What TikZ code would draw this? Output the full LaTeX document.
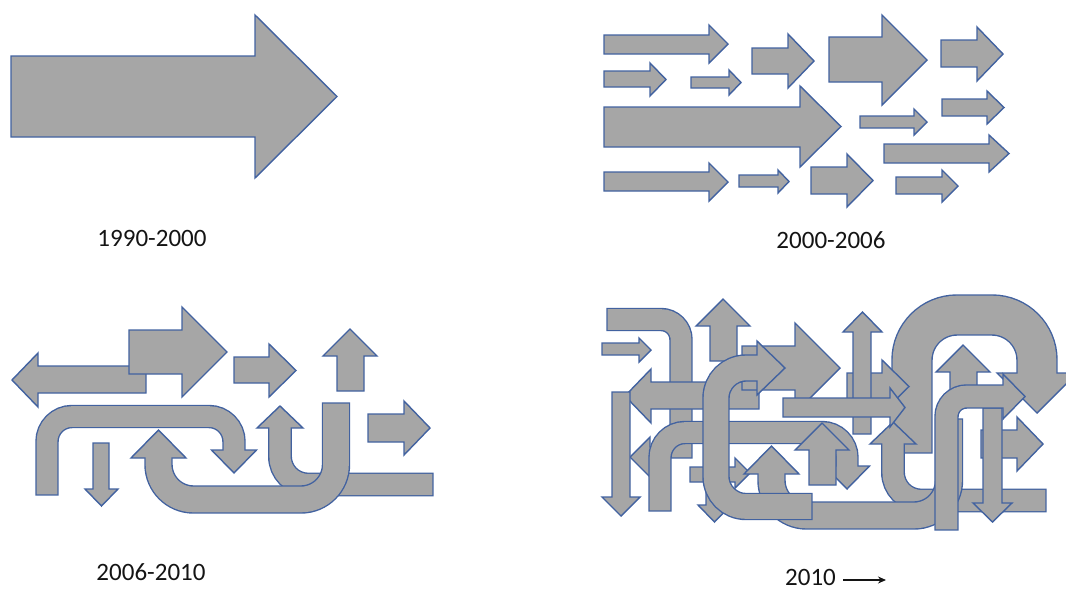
\documentclass[tikz,border=0pt]{standalone}
\usepackage{fontspec}
\setmainfont{Carlito}
\usetikzlibrary{arrows.meta}
\definecolor{agray}{RGB}{166,166,166}
\definecolor{ablue}{RGB}{66,98,160}
\definecolor{txt}{RGB}{20,20,20}
\tikzset{
 blk/.style={fill=agray, draw=ablue, line width=1.4pt, line join=miter},
 lbl/.style={inner sep=0pt, text=txt, font=\fontsize{25}{30}\selectfont},
 tarrow/.style={draw=txt, line width=1.3pt, -{Stealth[length=8pt,width=7pt]}},
}
% horizontal block arrow: tail x, shaft top, shaft bottom, head base x, head top, head bottom, tip x
\newcommand\HA[7]{\draw[blk] (#1,#2) -- (#4,#2) -- (#4,#5) -- (#7,{(#5+#6)/2}) -- (#4,#6) -- (#4,#3) -- (#1,#3) -- cycle;}
% vertical block arrow: tail y, shaft left, shaft right, head base y, head left, head right, tip y
\newcommand\VA[7]{\draw[blk] (#2,#1) -- (#2,#4) -- (#5,#4) -- ({(#5+#6)/2},#7) -- (#6,#4) -- (#3,#4) -- (#3,#1) -- cycle;}
% bent band with head: width, radius, centre path (tail to head base), head polygon
\newcommand\band[4]{%
 \draw[draw=ablue, line width={(#1+1.4)*1pt}, rounded corners=#2pt, shorten <=-0.7pt] #3;
 \draw[blk] #4 -- cycle;
 \draw[draw=agray, line width={(#1-1.4)*1pt}, rounded corners=#2pt, shorten <=0.7pt, shorten >=-1.6pt] #3;}
\newcommand\bandnh[3]{%
 \draw[draw=ablue, line width={(#1+1.4)*1pt}, rounded corners=#2pt, shorten <=-0.7pt, shorten >=-0.7pt] #3;
 \draw[draw=agray, line width={(#1-1.4)*1pt}, rounded corners=#2pt, shorten <=0.7pt, shorten >=0.7pt] #3;}
% shapes of the 2006-2010 group
\newcommand\qA{\HA{146}{366}{393}{38}{353}{407}{12}}
\newcommand\qB{\HA{129}{330}{374}{182}{307}{397}{227}}
\newcommand\qC{\HA{234}{357}{383}{269}{344}{397}{296}}
\newcommand\qD{\VA{391}{337}{364}{356}{323}{377}{329}}
\newcommand\qE{\HA{368}{414}{442}{404}{401}{455}{430}}
\newcommand\qF{\VA{443}{93}{109}{489}{85}{118}{506}}
\newcommand\qG{\band{22}{25}{(47,495) -- (47,416.5) -- (234,416.5) -- (234,450)}{(211.5,450) -- (234,473) -- (256.5,450)}}
\newcommand\qH{\band{27}{35}{(336,403) -- (336,499.5) -- (158.5,499.5) -- (158.5,458)}{(131,458) -- (158.5,430) -- (186,458)}}
\newcommand\qI{\band{22.5}{28}{(433,484.5) -- (280,484.5) -- (280,428)}{(257,428) -- (280,406) -- (303,428)}}
\begin{document}
\begin{tikzpicture}[x=1pt,y=-1pt]
\useasboundingbox (0,0) rectangle (1066,592);
\clip (0,0) rectangle (1066,592);
% 1990-2000
\HA{11}{56}{137}{255}{15}{178}{337}
% 2000-2006
\HA{604}{35}{54}{709}{25}{63}{728}
\HA{604}{71}{87}{650}{63}{96}{666}
\HA{691}{77}{88}{729}{70}{95}{741}
\HA{752}{48}{74}{788}{34}{88}{814}
\HA{829}{37}{82}{882}{15}{105}{927}
\HA{941}{40}{67}{977}{27}{81}{1003}
\HA{604}{107}{147}{800}{86}{167}{841}
\HA{860}{116}{128}{914}{109}{135}{927}
\HA{942}{99}{116}{987}{91}{124}{1004}
\HA{884}{144}{163}{989}{135}{172}{1009}
\HA{604}{172}{191}{709}{163}{201}{728}
\HA{739}{175}{187}{778}{170}{193}{789}
\HA{811}{167}{194}{847}{154}{207}{873}
\HA{896}{177}{194}{942}{170}{202}{958}
% 2006-2010
\qA \qB \qC \qD \qE \qF \qI \qH \qG
% 2010 ->
\bandnh{22}{20}{(607,319.5) -- (681,319.5) -- (681,458)}
\band{40}{45}{(912,453) -- (912,315) -- (1037,315) -- (1037,373)}{(997,373) -- (1037,413) -- (1077,373)}
\begin{scope}[shift={(613,16)}]\qD\qC\end{scope}
\begin{scope}[shift={(373,-30)}]\qD\end{scope}
\HA{602}{343}{355}{639}{338}{362}{651}
\begin{scope}[shift={(613,16)}]\qA\end{scope}
\HA{665}{447}{467}{650}{437}{477}{630}
\VA{392}{612}{630}{497}{602}{640}{516}
\begin{scope}[shift={(613,16)}]\qB\qF\end{scope}
\HA{690}{467}{482}{735}{458}{488}{750}
\begin{scope}[shift={(613,16)}]\qI\qH\qE\end{scope}
\VA{408}{983}{1002}{503}{973}{1012}{522}
\band{23}{20}{(946.5,530) -- (946.5,396.5) -- (1003,396.5)}{(1003,374) -- (1025,396.5) -- (1003,419)}
\begin{scope}[shift={(613,16)}]\qG\end{scope}
\VA{434}{853}{871}{332}{843}{882}{312}
\HA{783}{398}{417}{890}{388}{427}{905}
\begin{scope}[shift={(472,94)}]\qD\end{scope}
\band{26}{30}{(812,506.5) -- (716,506.5) -- (716,368) -- (757,368)}{(757,341) -- (785,368) -- (757,395)}
% labels
\node[lbl] (t1) at (152,238) {1990-2000};
\node[lbl] (t2) at (831,240) {2000-2006};
\node[lbl] (t3) at (151,572) {2006-2010};
\node[lbl, anchor=west] (t4) at (785,577) {2010};
\coordinate (aend) at (886,580);
\draw[tarrow] ([xshift=7pt,yshift=-3pt]t4.east) -- (aend);
\end{tikzpicture}
\end{document}
